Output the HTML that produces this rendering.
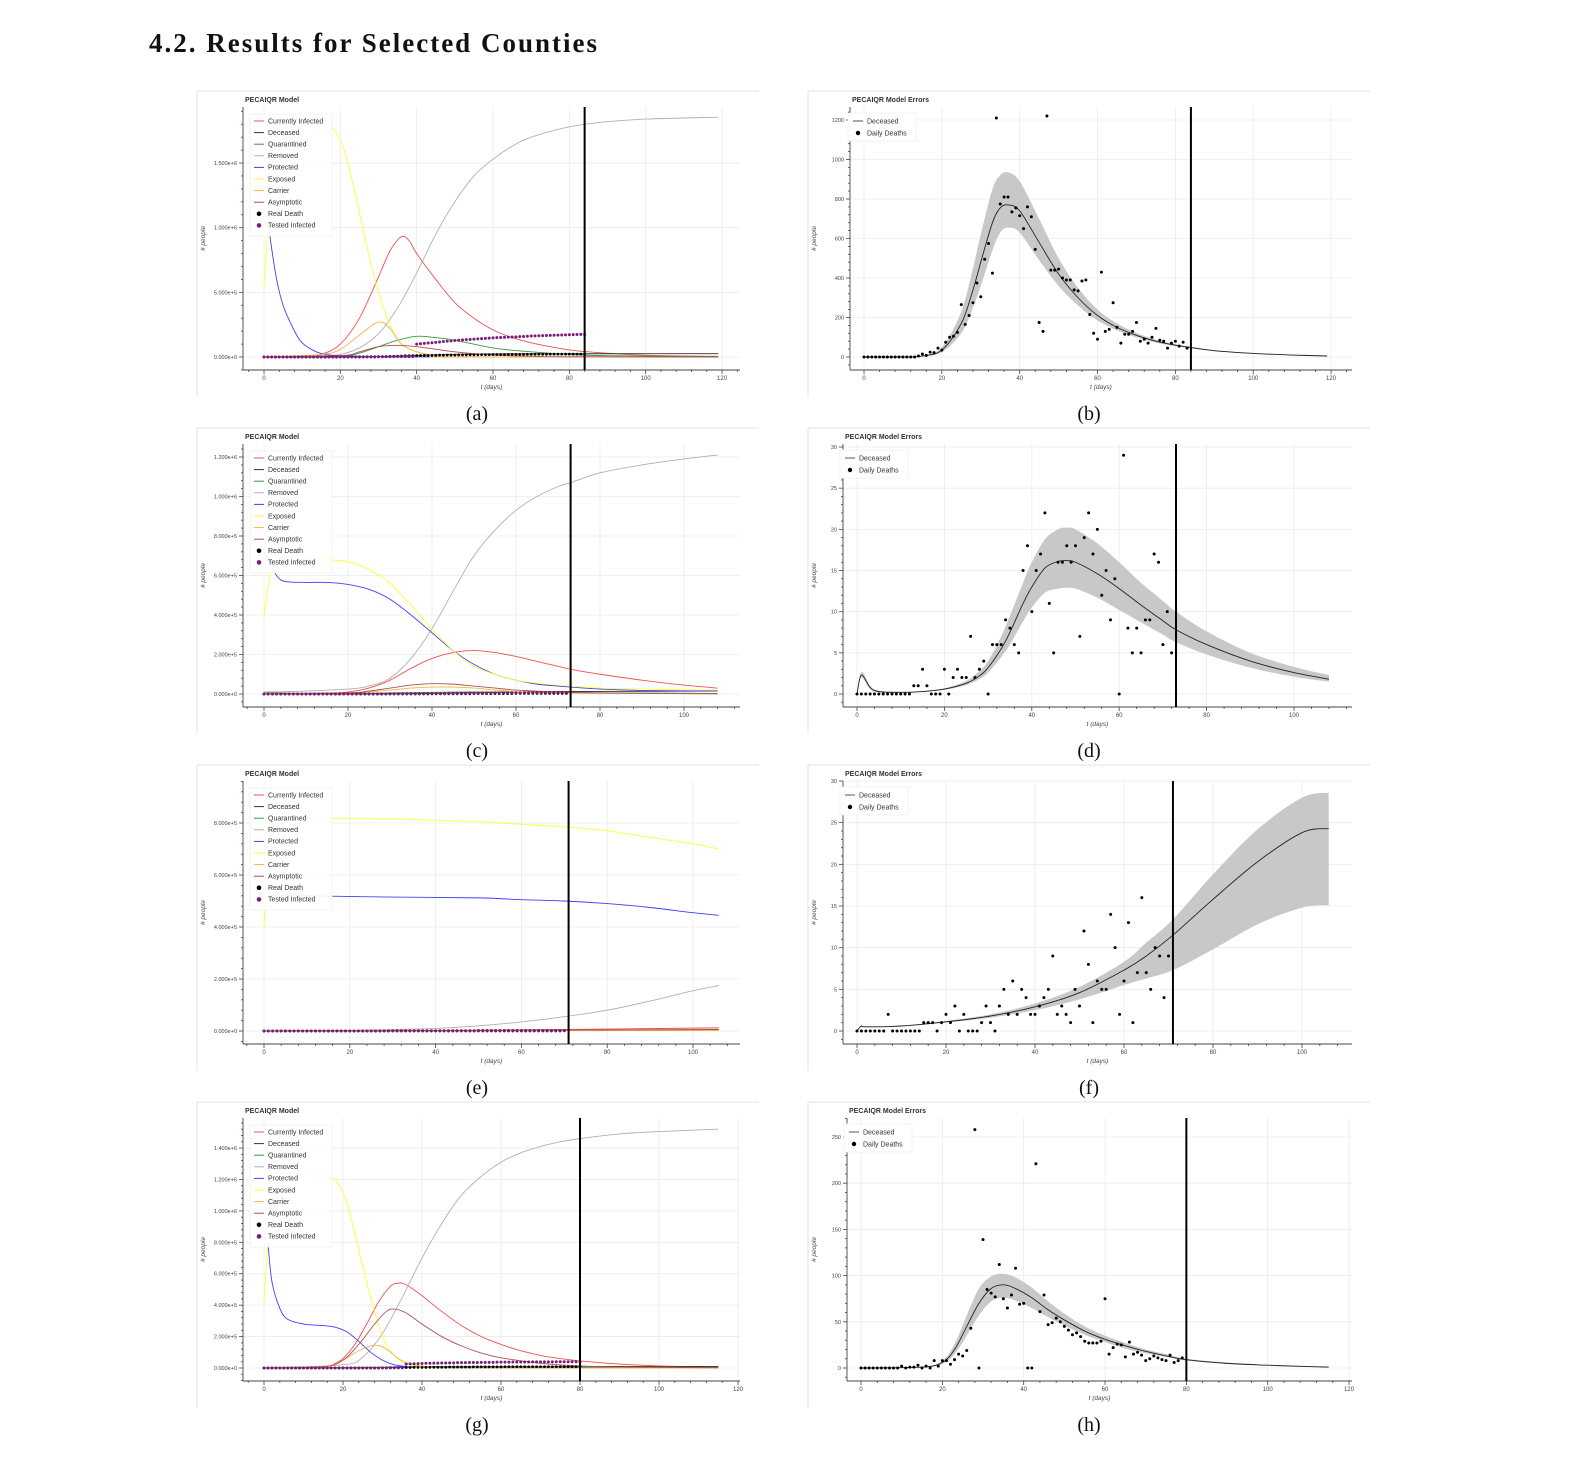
<!DOCTYPE html>
<html><head><meta charset="utf-8">
<style>
body{margin:0;background:#fff;width:1586px;height:1478px;overflow:hidden;}
svg{position:absolute;left:0;top:0;}
</style></head>
<body>
<svg id="fig" width="1586" height="1478" xmlns="http://www.w3.org/2000/svg">
<text x="149" y="52" font-family="Liberation Serif, serif" font-weight="bold" font-size="27" fill="#111" textLength="448" lengthAdjust="spacing">4.2.  Results for Selected Counties</text>
</svg>
<script>
// ---------- Data (model compartments in millions, keypoints [t, value]) ----------
const aInfT=[0,10,15,20,25,30,33,36,38,40,45,50,55,60,65,70,75,80,85,95,105,119];
const aInfV=[0,0,0.02,0.1,0.3,0.62,0.82,0.93,0.9,0.8,0.6,0.42,0.3,0.21,0.15,0.11,0.08,0.055,0.04,0.02,0.01,0.005];
const aDecT=[0,20,30,40,50,60,119];
const aDecV=[0,0,0.003,0.012,0.02,0.024,0.026];
const aQuaT=[0,20,25,30,35,40,45,50,60,70,80,90,119];
const aQuaV=[0,0.01,0.03,0.08,0.13,0.16,0.15,0.13,0.07,0.04,0.02,0.01,0.003];
const aRemT=[0,15,20,25,30,35,40,45,50,55,60,65,70,80,90,100,119];
const aRemV=[0,0.01,0.02,0.07,0.18,0.38,0.65,0.95,1.2,1.4,1.53,1.63,1.7,1.78,1.82,1.84,1.855];
const aProT=[1,3,5,8,10,13,16,20,30,40,119];
const aProV=[1.05,0.65,0.4,0.2,0.11,0.05,0.02,0.01,0.003,0.001,0];
const aExpT=[0,1,2,4,8,14,18,21,24,27,30,33,36,40,45,50,119];
const aExpV=[0.55,1.0,1.4,1.7,1.8,1.8,1.77,1.6,1.25,0.85,0.5,0.25,0.1,0.04,0.01,0,0];
const aCarT=[0,15,20,25,30,33,36,40,45,50,119];
const aCarV=[0,0.02,0.06,0.17,0.27,0.22,0.1,0.04,0.01,0,0];
const aAsyT=[0,20,25,30,35,40,45,50,60,70,80,119];
const aAsyV=[0,0.01,0.04,0.08,0.09,0.08,0.06,0.04,0.015,0.006,0.002,0];
const aRealDeath=[0,0,0,0,0,0,0,0,0,0,0,0,0,0,0,0,0,0,0,0,0,0,0,0,0,0,0,0,0,0,0.002,0.003,0.004,0.005,0.006,0.007,0.008,0.009,0.009,0.010,0.011,0.011,0.012,0.012,0.013,0.013,0.014,0.014,0.015,0.015,0.015,0.016,0.016,0.016,0.017,0.017,0.017,0.018,0.018,0.018,0.019,0.019,0.019,0.019,0.020,0.020,0.020,0.020,0.020,0.021,0.021,0.021,0.021,0.021,0.021,0.022,0.022,0.022,0.022,0.022,0.022,0.022,0.022,0.022,0.022];
const aTested=[0,0,0,0,0,0,0,0,0,0,0,0,0,0,0,0,0,0,0,0,0.001,0.001,0.001,0.001,0.001,0.001,0.001,0.002,0.002,0.002,0.002,0.002,0.002,0.002,0.003,0.003,0.003,0.003,0.003,0.003,0.100,0.102,0.105,0.108,0.110,0.113,0.116,0.120,0.123,0.125,0.128,0.130,0.132,0.134,0.136,0.138,0.140,0.142,0.144,0.146,0.148,0.150,0.151,0.152,0.154,0.155,0.156,0.158,0.159,0.160,0.162,0.163,0.164,0.165,0.166,0.167,0.168,0.169,0.170,0.171,0.172,0.173,0.174,0.175,0.175];

const cInfT=[0,15,20,25,30,35,40,45,50,55,60,65,70,73,80,90,100,108];
const cInfV=[0,0.005,0.01,0.03,0.07,0.13,0.18,0.21,0.22,0.21,0.19,0.165,0.14,0.125,0.1,0.07,0.045,0.03];
const cDecT=[0,30,50,70,108];
const cDecV=[0,0.001,0.006,0.012,0.015];
const cQuaT=[0,10,30,45,60,80,108];
const cQuaV=[0.008,0.003,0.005,0.01,0.01,0.006,0.003];
const cRemT=[0,10,20,25,30,35,40,45,50,55,60,65,70,73,80,90,100,108];
const cRemV=[0.01,0.015,0.025,0.04,0.08,0.18,0.33,0.52,0.7,0.83,0.93,1.0,1.05,1.07,1.12,1.16,1.19,1.21];
const cProT=[0,1,3,5,10,15,20,25,30,35,40,45,50,55,60,65,70,73,80,90,108];
const cProV=[0.72,0.68,0.6,0.57,0.565,0.565,0.555,0.53,0.48,0.4,0.31,0.22,0.15,0.1,0.07,0.05,0.04,0.035,0.025,0.018,0.015];
const cExpT=[0,1,2,3,5,10,15,20,25,30,35,40,45,50,55,60,65,70,73,80,90,108];
const cExpV=[0.39,0.55,0.66,0.69,0.69,0.685,0.68,0.67,0.63,0.56,0.45,0.33,0.22,0.14,0.1,0.07,0.055,0.045,0.04,0.03,0.025,0.02];
const cCarT=[0,20,30,35,40,45,50,55,60,70,108];
const cCarV=[0,0.005,0.02,0.03,0.035,0.035,0.03,0.02,0.012,0.005,0.001];
const cAsyT=[0,20,25,30,35,40,45,50,55,60,70,80,108];
const cAsyV=[0,0.005,0.015,0.03,0.045,0.052,0.05,0.04,0.03,0.02,0.01,0.005,0.001];
const cRealDeath=[0,0,0,0,0,0,0,0,0,0,0,0,0,0,0,0,0,0,0,0,0,0,0,0,0,0,0,0,0,0,0,0,0,0,0,0,0,0,0,0,0.001,0.001,0.001,0.001,0.001,0.001,0.001,0.001,0.001,0.001,0.002,0.002,0.002,0.002,0.002,0.002,0.002,0.002,0.002,0.002,0.003,0.003,0.003,0.003,0.003,0.003,0.003,0.003,0.003,0.003,0.003,0.003,0.003];
const cTested=[0,0,0,0,0,0,0,0,0,0,0,0,0,0,0,0,0,0,0,0,0,0,0,0,0,0,0,0,0,0,0.001,0.001,0.001,0.001,0.001,0.001,0.001,0.001,0.002,0.002,0.002,0.002,0.002,0.002,0.003,0.003,0.003,0.003,0.003,0.004,0.004,0.004,0.004,0.005,0.005,0.005,0.005,0.006,0.006,0.006,0.006,0.006,0.007,0.007,0.007,0.007,0.007,0.008,0.008,0.008,0.008,0.008,0.008];

const eInfT=[0,40,70,106];
const eInfV=[0,0.002,0.006,0.012];
const eDecT=[0,106];
const eDecV=[0,0.003];
const eQuaT=[0,106];
const eQuaV=[0,0.004];
const eRemT=[0,20,40,50,60,70,80,90,100,106];
const eRemV=[0,0.002,0.01,0.02,0.035,0.055,0.08,0.115,0.155,0.175];
const eProT=[0,1,2,10,30,50,60,70,80,90,100,106];
const eProV=[0.55,0.53,0.52,0.52,0.515,0.512,0.505,0.5,0.49,0.475,0.455,0.445];
const eExpT=[0,1,2,3,10,30,50,60,70,80,90,100,106];
const eExpV=[0.4,0.7,0.8,0.82,0.82,0.815,0.805,0.795,0.785,0.77,0.745,0.72,0.7];
const eCarT=[0,106];
const eCarV=[0,0.002];
const eAsyT=[0,50,106];
const eAsyV=[0,0.002,0.006];
const eRealDeath=[0,0,0,0,0,0,0,0,0,0,0,0,0,0,0,0,0,0,0,0,0,0,0,0,0,0,0,0,0,0,0,0,0,0,0,0,0,0,0,0,0,0,0,0,0,0,0,0,0,0,0,0,0,0,0,0,0,0,0,0,0,0,0,0,0,0,0,0,0,0,0.001];
const eTested=[0,0,0,0,0,0,0,0,0,0,0,0,0,0,0,0,0,0,0,0,0,0,0,0,0,0,0,0,0,0,0.001,0.001,0.001,0.001,0.001,0.001,0.001,0.001,0.001,0.001,0.001,0.001,0.001,0.001,0.001,0.001,0.001,0.001,0.001,0.001,0.002,0.002,0.002,0.002,0.002,0.002,0.002,0.002,0.002,0.002,0.002,0.002,0.002,0.002,0.002,0.002,0.002,0.002,0.002,0.002,0.002];

const gInfT=[0,15,18,20,23,26,29,32,34,36,40,45,50,55,60,65,70,75,80,90,100,115];
const gInfV=[0,0.01,0.03,0.06,0.15,0.28,0.42,0.52,0.54,0.53,0.46,0.36,0.27,0.2,0.15,0.11,0.08,0.06,0.045,0.025,0.013,0.005];
const gDecT=[0,30,40,60,115];
const gDecV=[0,0.002,0.006,0.009,0.01];
const gQuaT=[0,30,40,60,115];
const gQuaV=[0,0.005,0.01,0.008,0.003];
const gRemT=[0,20,25,30,35,40,45,50,55,60,65,70,75,80,90,100,115];
const gRemV=[0,0.02,0.07,0.22,0.45,0.7,0.92,1.1,1.22,1.31,1.37,1.41,1.44,1.46,1.49,1.505,1.52];
const gProT=[1,2,4,6,10,15,18,21,24,27,30,33,36,40,115];
const gProV=[0.8,0.55,0.38,0.31,0.28,0.27,0.26,0.23,0.17,0.1,0.05,0.02,0.01,0.005,0];
const gExpT=[0,1,2,4,8,14,18,21,24,27,30,33,36,40,45,115];
const gExpV=[0.42,0.8,1.0,1.15,1.22,1.23,1.2,1.05,0.75,0.45,0.2,0.08,0.03,0.01,0,0];
const gCarT=[0,15,20,24,28,31,34,37,42,50,115];
const gCarV=[0,0.01,0.05,0.11,0.145,0.12,0.06,0.025,0.008,0,0];
const gAsyT=[0,15,20,24,28,31,33,36,40,45,50,55,60,70,80,90,115];
const gAsyV=[0,0.008,0.05,0.15,0.28,0.36,0.375,0.35,0.28,0.2,0.14,0.095,0.065,0.03,0.013,0.006,0.001];
const gRealDeath=[0,0,0,0,0,0,0,0,0,0,0,0,0,0,0,0,0,0,0,0,0,0,0,0,0,0,0,0,0,0,0.001,0.001,0.002,0.002,0.002,0.003,0.003,0.003,0.004,0.004,0.004,0.004,0.005,0.005,0.005,0.005,0.005,0.006,0.006,0.006,0.006,0.006,0.006,0.007,0.007,0.007,0.007,0.007,0.007,0.007,0.007,0.008,0.008,0.008,0.008,0.008,0.008,0.008,0.008,0.008,0.008,0.008,0.008,0.008,0.008,0.008,0.008,0.008,0.008,0.008,0.008];
const gTested=[0,0,0,0,0,0,0,0,0,0,0,0,0,0,0,0,0,0,0,0,0,0,0,0,0,0,0,0,0,0,0.001,0.001,0.001,0.001,0.001,0.001,0.025,0.026,0.027,0.028,0.029,0.030,0.030,0.031,0.031,0.032,0.032,0.033,0.033,0.034,0.034,0.034,0.035,0.035,0.035,0.036,0.036,0.036,0.036,0.037,0.037,0.037,0.037,0.038,0.038,0.038,0.038,0.038,0.039,0.039,0.039,0.039,0.039,0.039,0.040,0.040,0.040,0.040,0.040,0.040,0.040];

// Error panels: daily deaths (index = day), model keypoints and band
const bDaily=[0,0,0,0,0,0,0,0,0,0,0,0,0,0,5,15,8,25,22,45,35,75,100,105,125,265,165,210,275,375,305,495,575,425,1210,775,810,810,735,755,715,650,760,710,545,175,130,1220,440,440,445,400,390,390,340,335,385,390,215,120,90,430,130,140,275,150,70,115,115,130,175,80,90,70,100,145,85,80,45,70,80,55,75,45];
const bModT=[0,10,15,20,25,28,30,33,35,37,40,45,50,55,60,65,70,75,80,84,90,100,110,119];
const bModV=[0,0,5,35,170,340,480,680,755,770,740,580,420,300,210,150,110,80,60,48,32,18,10,5];
const bUpV=[0,0,8,50,230,450,620,850,920,935,890,700,500,350,240,170,122,88,65,52,35,20,11,6];
const bLoV=[0,0,3,25,120,250,360,540,630,655,630,490,360,260,185,135,100,73,55,45,30,17,9,4];

const dDaily=[0,0,0,0,0,0,0,0,0,0,0,0,0,1,1,3,1,0,0,0,3,0,2,3,2,2,7,2,3,4,0,6,6,6,9,8,6,5,15,18,10,15,17,22,11,5,16,16,18,16,18,7,19,22,17,20,12,15,9,14,0,29,8,5,8,5,9,9,17,16,6,10,5];
const dModT=[0,1,3,5,10,15,20,25,28,30,33,35,38,40,43,46,48,50,55,60,65,70,73,80,90,100,108];
const dModV=[0,2.3,0.8,0.3,0.2,0.3,0.6,1.3,2.2,3.2,5.5,7.5,11,13,15.3,16.1,16.2,16.0,14.6,12.8,10.8,8.9,7.8,6.0,4.0,2.6,1.8];
const dUpV=[0,2.7,1,0.4,0.25,0.35,0.7,1.6,2.8,4,7,9.5,13.5,16,18.8,20,20.2,20,18.3,16,13.5,11.3,10,7.6,5,3.3,2.3];
const dLoV=[0,2,0.6,0.2,0.15,0.25,0.5,1.1,1.8,2.6,4.5,6,8.8,10.5,12.3,12.8,12.9,12.8,11.7,10.2,8.7,7.2,6.3,4.8,3.2,2.1,1.5];

const fDaily=[0,0,0,0,0,0,0,2,0,0,0,0,0,0,0,1,1,1,0,1,2,1,3,0,2,0,0,0,1,3,1,0,3,5,2,6,2,5,4,2,2,3,4,5,9,2,3,2,1,5,3,12,8,1,6,5,5,14,10,2,6,13,1,7,16,7,5,10,9,4,9];
const fModT=[0,1,2,10,20,30,40,50,60,65,71,80,90,100,106];
const fModV=[0,0.6,0.5,0.6,1.1,1.8,2.9,4.6,7.3,9.0,11.5,15.8,20.3,23.8,24.3];
const fUpV=[0,0.7,0.55,0.65,1.2,2.0,3.3,5.3,8.3,10.6,13.4,18.8,24.2,28.0,28.6];
const fLoV=[0,0.5,0.45,0.55,1.0,1.6,2.5,3.8,5.5,6.3,7.3,9.8,12.8,14.8,15.1];

const hDaily=[0,0,0,0,0,0,0,0,0,0,2,0,1,1,3,0,2,0,8,2,8,8,4,9,15,13,19,43,258,0,139,85,81,77,112,75,65,79,108,69,70,0,0,221,61,79,47,49,54,50,45,41,36,38,34,29,27,27,27,29,75,15,22,26,25,12,28,15,17,14,8,10,13,11,9,8,14,6,8,11];
const hModT=[0,15,20,23,26,29,32,35,38,42,46,50,55,60,65,70,75,80,90,100,110,115];
const hModV=[0,1,6,20,45,70,86,90,86,76,63,52,40,31,24,18,13,9,5,3,1.5,1];
const hUpV=[0,1.3,8,26,57,86,99,102,98,87,72,59,45,35,27,20,15,10,6,3.5,2,1.5];
const hLoV=[0,0.8,4.5,15,35,57,72,76,73,65,55,46,36,28,21,16,12,8,4.5,2.7,1.3,0.8];

// Tick label arrays
const xTicks120=[0,20,40,60,80,100,120];
const xTicks100=[0,20,40,60,80,100];
const yTicksA=[0,0.5,1.0,1.5];
const yTicksC=[0,0.2,0.4,0.6,0.8,1.0,1.2];
const yTicksE=[0,0.2,0.4,0.6,0.8];
const yTicksG=[0,0.2,0.4,0.6,0.8,1.0,1.2,1.4];
const yTicksB=[0,200,400,600,800,1000,1200];
const yTicks30=[0,5,10,15,20,25,30];
const yTicksH=[0,50,100,150,200,250];
const legendModel=["Currently Infected","Deceased","Quarantined","Removed","Protected","Exposed","Carrier","Asymptotic","Real Death","Tested Infected"];
const legendErr=["Deceased","Daily Deaths"];
const cutoffDays=[84,84,73,73,71,71,80,80];

// ---------- Rendering ----------
const NS="http://www.w3.org/2000/svg";
const svg=document.getElementById('fig');
function mk(tag,attrs,parent){const e=document.createElementNS(NS,tag);for(const k in attrs)e.setAttribute(k,attrs[k]);(parent||svg).appendChild(e);return e;}
function sci(v){if(v===0)return "0.000e+0";const e=Math.floor(Math.log10(v)+1e-9);return (v/Math.pow(10,e)).toFixed(3)+"e+"+e;}
function smoothPath(pts){
  let d="M"+pts[0][0].toFixed(2)+","+pts[0][1].toFixed(2);
  for(let i=0;i<pts.length-1;i++){
    const p0=pts[Math.max(0,i-1)],p1=pts[i],p2=pts[i+1],p3=pts[Math.min(pts.length-1,i+2)];
    const c1x=p1[0]+(p2[0]-p0[0])/6,c1y=p1[1]+(p2[1]-p0[1])/6;
    const c2x=p2[0]-(p3[0]-p1[0])/6,c2y=p2[1]-(p3[1]-p1[1])/6;
    d+=" C"+c1x.toFixed(2)+","+c1y.toFixed(2)+" "+c2x.toFixed(2)+","+c2y.toFixed(2)+" "+p2[0].toFixed(2)+","+p2[1].toFixed(2);
  }
  return d;
}
const FONT="Liberation Sans, sans-serif";

function panelFrame(g,P){
  mk('line',{x1:P.fx,y1:P.top,x2:P.fx+562,y2:P.top,stroke:'#e3e3e3','stroke-width':1},g);
  mk('line',{x1:P.fx,y1:P.top,x2:P.fx,y2:P.top+306,stroke:'#e3e3e3','stroke-width':1},g);
  const t=mk('text',{x:P.axL+2,y:P.top+11,'font-family':FONT,'font-weight':'bold','font-size':7,fill:'#333'},g);
  t.textContent=P.title;
  
  
}
function drawPanel(P){
  const g=mk('g',{});
  
  
  panelFrame(g,P);
  const X=t=>P.x0+t*P.sx, Y=v=>P.y0-v*P.sy;
  const top=P.top+16, bot=P.top+279;
  const grid=mk('g',{},g);
  
  
  P.xt.forEach(t=>mk('line',{x1:X(t),y1:top,x2:X(t),y2:bot,stroke:'#ebebeb','stroke-width':0.8},grid));
  P.yt.forEach(v=>mk('line',{x1:P.axL,y1:Y(v),x2:P.axR,y2:Y(v),stroke:'#ebebeb','stroke-width':0.8},grid));
  const ax=mk('g',{},g);
  
  
  mk('line',{x1:P.axL,y1:top,x2:P.axL,y2:bot,stroke:'#444','stroke-width':0.9},ax);
  mk('line',{x1:P.axL,y1:bot,x2:P.axR,y2:bot,stroke:'#444','stroke-width':0.9},ax);
  const xmin=Math.ceil((P.axL-P.x0)/P.sx), xmax=Math.floor((P.axR-P.x0)/P.sx);
  for(let t=Math.ceil(xmin/4)*4;t<=xmax;t+=4){
    const maj=(t%20===0);
    mk('line',{x1:X(t),y1:bot,x2:X(t),y2:bot+(maj?4:2),stroke:'#444','stroke-width':0.8},ax);
  }
  P.xt.forEach(t=>{const tx=mk('text',{x:X(t),y:bot+10,'text-anchor':'middle','font-family':FONT,'font-size':6,fill:'#444'},ax);tx.textContent=t;
    
    });
  const step=(P.yt[1]-P.yt[0])/5;
  const ymin=(P.y0-bot)/P.sy, ymax=(P.y0-top)/P.sy;
  for(let k=Math.ceil(ymin/step);k*step<=ymax;k++){
    const v=k*step, maj=(k%5===0);
    mk('line',{x1:P.axL-(maj?4:2),y1:Y(v),x2:P.axL,y2:Y(v),stroke:'#444','stroke-width':0.8},ax);
  }
  P.yt.forEach(v=>{const tx=mk('text',{x:P.axL-6,y:Y(v)+2,'text-anchor':'end','font-family':FONT,'font-size':5.5,fill:'#444'},ax);
    tx.textContent=P.fmt(v);
    
    });
  const xl=mk('text',{x:(P.axL+P.axR)/2,y:P.top+298,'text-anchor':'middle','font-family':FONT,'font-style':'italic','font-size':6.5,fill:'#444'},g);
  xl.textContent='t (days)';
  
  
  const yc=(top+bot)/2, yx=P.fx+8;
  const yl=mk('text',{x:yx,y:yc,'text-anchor':'middle','font-family':FONT,'font-style':'italic','font-size':6.5,fill:'#444',transform:`rotate(-90 ${yx} ${yc})`},g);
  yl.textContent='# people';
  
  
  return {g,X,Y,top,bot};
}
function curve(g,X,Y,ts,vs,color,w,name){
  const p=mk('path',{d:smoothPath(ts.map((t,i)=>[X(t),Y(vs[i])])),fill:'none',stroke:color,'stroke-width':w},g);
  
  
}
function dots(g,X,Y,vals,color,r,name){
  const dg=mk('g',{fill:color},g);
  
  
  vals.forEach((v,i)=>mk('circle',{cx:X(i),cy:Y(v),r:r},dg));
}
function vline(g,X,t,top,bot){
  const l=mk('line',{x1:X(t),y1:top,x2:X(t),y2:bot,stroke:'#000','stroke-width':2},g);
  
  
}
function caption(cx,y,txt){
  const t=mk('text',{x:cx,y:y,'text-anchor':'middle','font-family':'Liberation Serif, serif','font-size':20,fill:'#111'});
  t.textContent=txt;
  
  
}
const COLORS=['#f05050','#333333','#3a9a3a','#b0b0b0','#4040ff','#ffff33','#f5b24a','#b05050'];
function modelLegend(g,top){
  const lg=mk('g',{},g);
  
  
  mk('rect',{x:250,y:top+23,width:82,height:122,fill:'#fff','fill-opacity':0.9,stroke:'#f0f0f0','stroke-width':0.8},lg);
  legendModel.forEach((lab,i)=>{
    const y=top+30+i*11.6;
    if(i<8) mk('line',{x1:254,y1:y,x2:264,y2:y,stroke:COLORS[i],'stroke-width':1},lg);
    else mk('circle',{cx:259,cy:y,r:2.3,fill:i===8?'#000':'#7a1a7a'},lg);
    const t=mk('text',{x:268,y:y+2.3,'font-family':FONT,'font-size':7,fill:'#333'},lg);
    t.textContent=lab;
    
    
  });
}
function errLegend(g,lx,top){
  const lg=mk('g',{},g);
  
  
  mk('rect',{x:lx,y:top+22,width:68,height:28,fill:'#fff',stroke:'#f0f0f0','stroke-width':0.8},lg);
  const y1=top+30,y2=top+42;
  mk('line',{x1:lx+5,y1:y1,x2:lx+15,y2:y1,stroke:'#555','stroke-width':1},lg);
  mk('circle',{cx:lx+10,cy:y2,r:2.2,fill:'#000'},lg);
  legendErr.forEach((lab,i)=>{const t=mk('text',{x:lx+19,y:(i?y2:y1)+2.3,'font-family':FONT,'font-size':7,fill:'#333'},lg);t.textContent=lab;
    
    });
}
const fm=v=>sci(v*1e6), fi=v=>String(v);
const leftDefs=[
 {name:'panel-a-model',top:91,x0:264,sx:3.817,y0:357,sy:129.3,xt:xTicks120,yt:yTicksA,
  S:[[aInfT,aInfV],[aDecT,aDecV],[aQuaT,aQuaV],[aRemT,aRemV],[aProT,aProV],[aExpT,aExpV],[aCarT,aCarV],[aAsyT,aAsyV]],rd:aRealDeath,ti:aTested,cut:cutoffDays[0],cap:'(a)'},
 {name:'panel-c-model',top:428,x0:264,sx:4.2,y0:694,sy:197.5,xt:xTicks100,yt:yTicksC,
  S:[[cInfT,cInfV],[cDecT,cDecV],[cQuaT,cQuaV],[cRemT,cRemV],[cProT,cProV],[cExpT,cExpV],[cCarT,cCarV],[cAsyT,cAsyV]],rd:cRealDeath,ti:cTested,cut:cutoffDays[2],cap:'(c)'},
 {name:'panel-e-model',top:765,x0:264,sx:4.29,y0:1031,sy:260,xt:xTicks100,yt:yTicksE,
  S:[[eInfT,eInfV],[eDecT,eDecV],[eQuaT,eQuaV],[eRemT,eRemV],[eProT,eProV],[eExpT,eExpV],[eCarT,eCarV],[eAsyT,eAsyV]],rd:eRealDeath,ti:eTested,cut:cutoffDays[4],cap:'(e)'},
 {name:'panel-g-model',top:1102,x0:264,sx:3.95,y0:1368,sy:157.1,xt:xTicks120,yt:yTicksG,
  S:[[gInfT,gInfV],[gDecT,gDecV],[gQuaT,gQuaV],[gRemT,gRemV],[gProT,gProV],[gExpT,gExpV],[gCarT,gCarV],[gAsyT,gAsyV]],rd:gRealDeath,ti:gTested,cut:cutoffDays[6],cap:'(g)'}
];
const seriesNames=['currently-infected-line','deceased-line','quarantined-line','removed-line','protected-line','exposed-line','carrier-line','asymptotic-line'];
leftDefs.forEach(D=>{
  const P={name:D.name,title:'PECAIQR Model',top:D.top,fx:197,axL:243,axR:740,x0:D.x0,sx:D.sx,y0:D.y0,sy:D.sy,xt:D.xt,yt:D.yt,fmt:fm};
  const {g,X,Y,top,bot}=drawPanel(P);
  D.S.forEach((s,i)=>curve(g,X,Y,s[0],s[1],COLORS[i],0.9,seriesNames[i]));
  dots(g,X,Y,D.rd,'#000',1.4,'real-death-points');
  dots(g,X,Y,D.ti,'#7a1a7a',1.5,'tested-infected-points');
  vline(g,X,D.cut,top,bot);
  modelLegend(g,D.top);
  caption(477,D.top+329,D.cap);
});
const rightDefs=[
 {name:'panel-b-errors',top:91,axL:850,x0:864,sx:3.892,y0:357,sy:0.1975,xt:xTicks120,yt:yTicksB,daily:bDaily,mt:bModT,mv:bModV,up:bUpV,lo:bLoV,cut:cutoffDays[1],cap:'(b)',lx:848},
 {name:'panel-d-errors',top:428,axL:843,x0:857,sx:4.37,y0:694,sy:8.233,xt:xTicks100,yt:yTicks30,daily:dDaily,mt:dModT,mv:dModV,up:dUpV,lo:dLoV,cut:cutoffDays[3],cap:'(d)',lx:840},
 {name:'panel-f-errors',top:765,axL:843,x0:857,sx:4.45,y0:1031,sy:8.333,xt:xTicks100,yt:yTicks30,daily:fDaily,mt:fModT,mv:fModV,up:fUpV,lo:fLoV,cut:cutoffDays[5],cap:'(f)',lx:840},
 {name:'panel-h-errors',top:1102,axL:847,x0:861,sx:4.067,y0:1368,sy:0.924,xt:xTicks120,yt:yTicksH,daily:hDaily,mt:hModT,mv:hModV,up:hUpV,lo:hLoV,cut:cutoffDays[7],cap:'(h)',lx:844}
];
rightDefs.forEach(D=>{
  const P={name:D.name,title:'PECAIQR Model Errors',top:D.top,fx:808,axL:D.axL,axR:1352,x0:D.x0,sx:D.sx,y0:D.y0,sy:D.sy,xt:D.xt,yt:D.yt,fmt:fi};
  const {g,X,Y,top,bot}=drawPanel(P);
  const upPts=D.mt.map((t,i)=>[X(t),Y(D.up[i])]);
  const loPts=D.mt.map((t,i)=>[X(t),Y(D.lo[i])]).reverse();
  const dUp=smoothPath(upPts), dLo=smoothPath(loPts).replace(/^M/,'L');
  const band=mk('path',{d:dUp+' '+dLo+' Z',fill:'#c8c8c8',stroke:'none'},g);
  
  
  curve(g,X,Y,D.mt,D.mv,'#222',0.9,'deceased-line');
  dots(g,X,Y,D.daily,'#000',1.5,'daily-deaths-points');
  vline(g,X,D.cut,top,bot);
  errLegend(g,D.lx,D.top);
  caption(1089,D.top+329,D.cap);
});
</script>
</body></html>
